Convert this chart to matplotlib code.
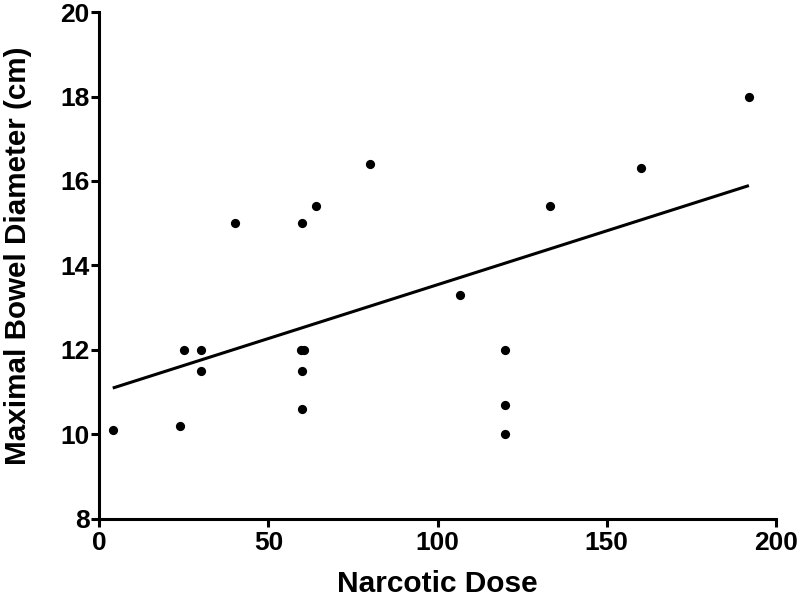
import matplotlib.pyplot as plt
import numpy as np

# data
dose = [4, 24, 25, 30, 30, 40, 60, 59.6, 60.4, 60, 60, 64, 80,
        106.6, 120, 120, 120, 133.3, 160, 192]
diameter = [10.1, 10.2, 12, 12, 11.5, 15, 15, 12, 12, 11.5, 10.6, 15.4, 16.4,
            13.3, 12, 10.7, 10, 15.4, 16.3, 18]

x_ticks = [0, 50, 100, 150, 200]
y_ticks = [8, 10, 12, 14, 16, 18, 20]

plt.rcParams['font.family'] = ['Liberation Sans', 'DejaVu Sans']
plt.rcParams['font.weight'] = 'bold'

fig = plt.figure(figsize=(8, 6.04), dpi=100)
ax = fig.add_axes([0.124, 0.141, 0.846, 0.839])

# linear regression line over the data range
x = np.array(dose)
y = np.array(diameter)
slope, intercept = np.polyfit(x, y, 1)
xs = np.array([x.min(), x.max()])
ax.plot(xs, slope * xs + intercept, color='black', lw=2.2, solid_capstyle='butt')

ax.scatter(x, y, s=44, color='black', zorder=3, linewidths=0)

ax.set_xlim(0, 200)
ax.set_ylim(8, 20)
ax.set_xticks(x_ticks)
ax.set_yticks(y_ticks)

for side in ['top', 'right']:
    ax.spines[side].set_visible(False)
for side in ['left', 'bottom']:
    ax.spines[side].set_linewidth(2.2)

ax.tick_params(direction='out', length=6, width=2.2, labelsize=19)
ax.tick_params(axis='y', pad=1)
ax.tick_params(axis='x', pad=3)
for lab in ax.get_xticklabels() + ax.get_yticklabels():
    lab.set_fontweight('bold')

ax.set_xlabel('Narcotic Dose', fontsize=21.5, fontweight='bold')
ax.set_ylabel('Maximal Bowel Diameter (cm)', fontsize=21.3, fontweight='bold')
ax.xaxis.set_label_coords(0.5, -0.10)
ax.yaxis.set_label_coords(-0.10, 0.52)

fig.savefig('out.png', dpi=100)
